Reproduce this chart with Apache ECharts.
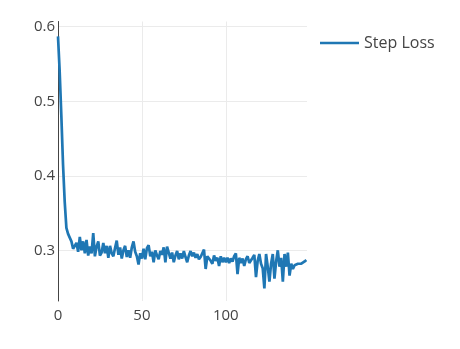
<!DOCTYPE html>
<html>
<head>
<meta charset="utf-8">
<script src="https://cdn.jsdelivr.net/npm/echarts@6/dist/echarts.min.js"></script>
<style>
html,body{margin:0;padding:0;background:#fff;}
#chart{width:460px;height:349px;}
</style>
</head>
<body>
<div id="chart"></div>
<script>
var seriesName = "Step Loss";
var xTicks = [0, 50, 100];
var yTicks = [0.3, 0.4, 0.5, 0.6];
var stepLoss = [
0.587,0.540,0.480,0.415,0.365,0.330,0.322,0.320,0.312,0.302,
0.300,0.310,0.298,0.318,0.300,0.312,0.296,0.314,0.293,0.305,
0.296,0.323,0.292,0.305,0.312,0.293,0.297,0.310,0.296,0.306,
0.290,0.306,0.296,0.292,0.303,0.313,0.294,0.304,0.289,0.300,
0.306,0.291,0.300,0.290,0.304,0.312,0.298,0.292,0.281,0.296,
0.289,0.302,0.288,0.303,0.307,0.292,0.298,0.284,0.300,0.293,
0.288,0.299,0.294,0.304,0.284,0.305,0.297,0.289,0.297,0.284,
0.293,0.299,0.288,0.296,0.289,0.299,0.291,0.284,0.293,0.299,
0.292,0.297,0.290,0.295,0.288,0.291,0.289,0.301,0.275,0.292,
0.294,0.286,0.282,0.293,0.286,0.290,0.279,0.292,0.284,0.290,
0.284,0.290,0.283,0.289,0.285,0.292,0.296,0.268,0.290,0.283,
0.289,0.279,0.288,0.292,0.283,0.281,0.290,0.294,0.264,0.286,
0.295,0.282,0.276,0.249,0.295,0.278,0.258,0.282,0.295,0.262,
0.285,0.300,0.278,0.290,0.258,0.295,0.278,0.297,0.266,0.282,
0.275,0.280,0.278,0.282,0.280,0.282,0.282,0.285,0.287
];
var steps = stepLoss.map(function(_, i){ return i; });

var chart = echarts.init(document.getElementById('chart'), null, {renderer:'canvas'});
var font = '"Open Sans", "Liberation Sans", sans-serif';
chart.setOption({
  animation: false,
  backgroundColor: '#fff',
  grid: {left: 58, right: 153, top: 21.5, bottom: 48, containLabel: false},
  legend: {
    show: true,
    data: [seriesName],
    left: 320, top: 34,
    padding: 0,
    icon: 'rect',
    itemWidth: 39, itemHeight: 2.5,
    textStyle: {fontFamily: font, fontSize: 16, color: '#444', lineHeight: 18}
  },
  xAxis: {
    type: 'value', min: 0, max: 148.4,
    axisLine: {show: false},
    axisTick: {show: false, customValues: xTicks},
    axisLabel: {customValues: xTicks, fontFamily: font, fontSize: 15, color: '#444', margin: 7},
    splitLine: {show: true, lineStyle: {color: '#ebebeb', width: 1}}
  },
  yAxis: {
    type: 'value', min: 0.232, max: 0.607,
    axisLine: {show: true, onZero: false, lineStyle: {color: '#444', width: 1}},
    axisTick: {show: false, customValues: yTicks},
    axisLabel: {customValues: yTicks, fontFamily: font, fontSize: 15, color: '#444', margin: 3,
      formatter: function(v){ return v.toFixed(1); }},
    splitLine: {show: true, lineStyle: {color: '#ebebeb', width: 1}}
  },
  series: [{
    name: seriesName,
    type: 'line',
    data: steps.map(function(s, i){ return [s, stepLoss[i]]; }),
    showSymbol: false,
    lineStyle: {color: '#1f77b4', width: 2.7},
    itemStyle: {color: '#1f77b4'}
  }]
});
</script>
</body>
</html>
